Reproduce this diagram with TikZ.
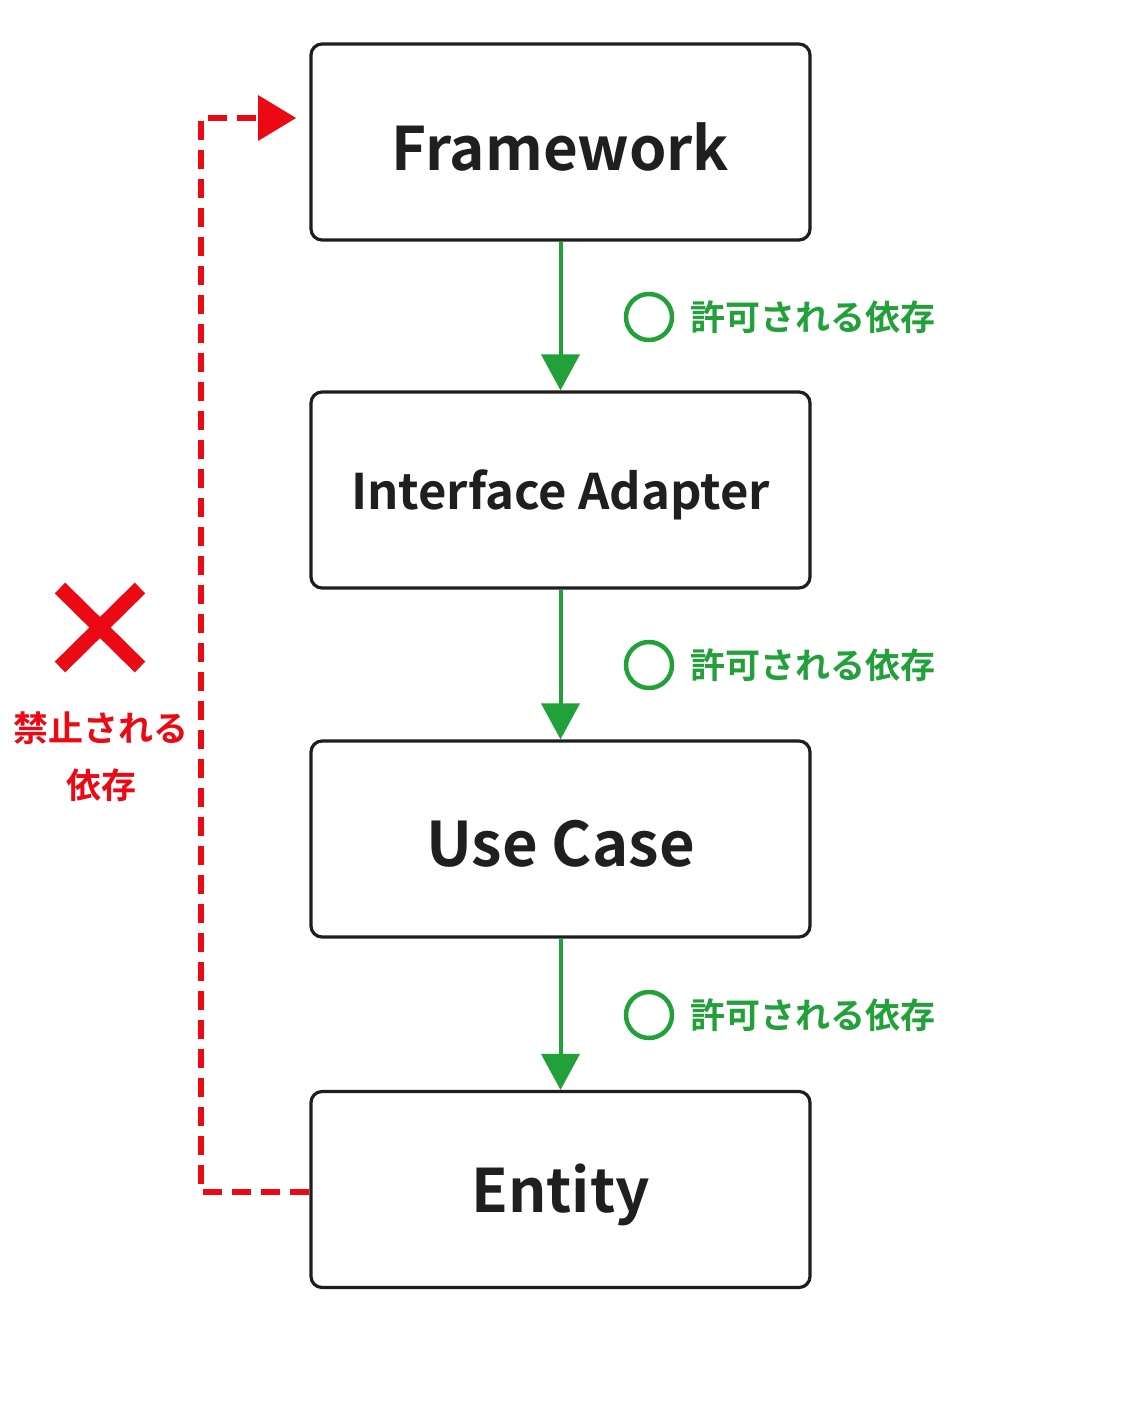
\documentclass[tikz,border=0pt]{standalone}
\usepackage{fontspec}
\setmainfont{Noto Sans CJK JP}[BoldFont={Noto Sans CJK JP Bold}]
\usetikzlibrary{arrows.meta}
\definecolor{okgreen}{RGB}{34,160,58}
\definecolor{ngred}{RGB}{235,10,20}
\definecolor{boxline}{RGB}{30,30,30}
\newcommand{\lowered}[1]{\raisebox{-5pt}[\height][\depth]{#1}}
\tikzset{
  layer/.style={draw=boxline, line width=3.2pt, rounded corners=11pt, minimum width=499pt, minimum height=196pt, inner sep=0pt, font=\bfseries\fontsize{60}{70}\selectfont, text=black!88},
  okarrow/.style={draw=okgreen, line width=4pt, -{Triangle[length=36pt,width=38pt]}},
  oklabel/.style={text=okgreen, font=\bfseries\fontsize{35}{40}\selectfont, anchor=west, inner sep=0pt},
  okcircle/.style={draw=okgreen, line width=4.5pt, circle, minimum size=46pt, inner sep=0pt},
  ngline/.style={draw=ngred, line width=6pt, dash pattern=on 19pt off 10pt},
  nglabel/.style={text=ngred, font=\bfseries\fontsize{35}{57}\selectfont, align=center, inner sep=0pt}
}
\begin{document}
\begin{tikzpicture}[x=1pt,y=-1pt]
\useasboundingbox (0,0) rectangle (1122,1402);
\fill[white] (0,0) rectangle (1122,1402);
\node[layer] (fw) at (560.5,142) {\lowered{Framework}};
\node[layer, font=\bfseries\fontsize{49}{56}\selectfont] (ia) at (560.5,490) {\lowered{Interface Adapter}};
\node[layer, font=\bfseries\fontsize{61.5}{70}\selectfont] (uc) at (560.5,839) {\lowered{Use Case}};
\node[layer] (en) at (560.5,1189.5) {\lowered{Entity}};

\draw[okarrow] (fw.south) -- (ia.north);
\draw[okarrow] (ia.south) -- (uc.north);
\draw[okarrow] (uc.south) -- (en.north);

\node[okcircle] (c1) at (649,317) {};
\node[oklabel] (l1) at (690,317) {許可される依存};
\node[okcircle] (c2) at (649,665) {};
\node[oklabel] (l2) at (690,665) {許可される依存};
\node[okcircle] (c3) at (649,1015) {};
\node[oklabel] (l3) at (690,1015) {許可される依存};

\coordinate (tl) at (201,118);
\coordinate (bl) at (201,1192);
\draw[ngline] (en.west |- bl) -- (bl) -- (tl) -- (258,118);
\fill[ngred] (296,118) -- (258,95) -- (258,141) -- cycle;

\node (xm) at (100,627) {};
\draw[ngred, line width=15pt] (60,588) -- (140,667) (140,588) -- (60,667);
\node[nglabel] (ngl) at (101,757) {禁止される\\依存};
\end{tikzpicture}
\end{document}
